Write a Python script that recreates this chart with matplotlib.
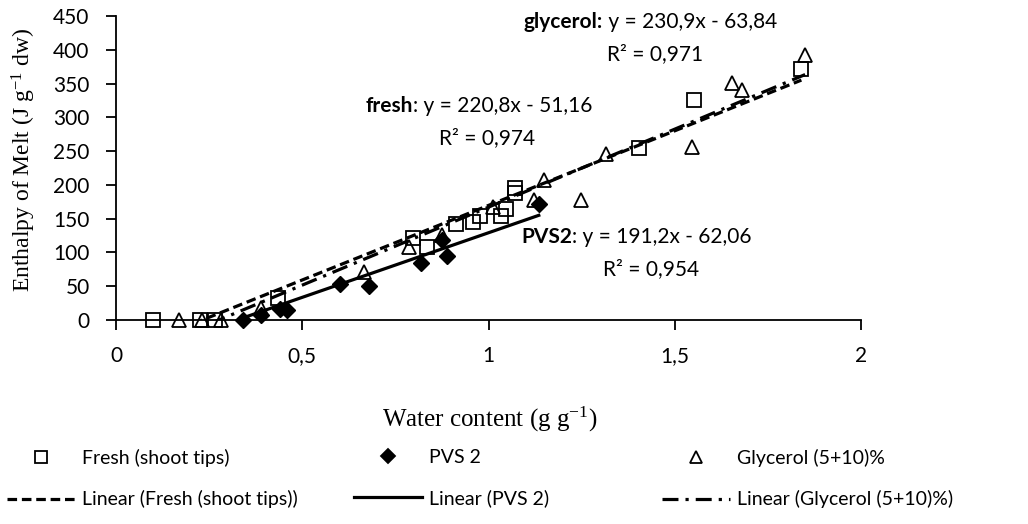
import matplotlib.pyplot as plt
import numpy as np
from matplotlib.lines import Line2D

plt.rcParams['font.family'] = ['Lato', 'DejaVu Sans']
plt.rcParams['mathtext.fontset'] = 'custom'
plt.rcParams['mathtext.rm'] = 'Liberation Serif'
plt.rcParams['mathtext.it'] = 'Liberation Serif:italic'

# data
fresh_x = [0.10, 0.225, 0.265, 0.435, 0.797, 0.835, 0.912, 0.958, 0.976, 1.034, 1.046, 1.07, 1.072, 1.403, 1.552, 1.84]
fresh_y = [0, 0, 0, 32, 122, 108, 142, 145, 154, 154, 165, 195, 188, 254, 326, 372]
pvs_x = [0.34, 0.39, 0.44, 0.46, 0.60, 0.68, 0.818, 0.876, 0.889, 1.135]
pvs_y = [0, 7, 17, 15, 53, 50, 84, 118, 95, 172]
gly_x = [0.17, 0.23, 0.283, 0.39, 0.666, 0.786, 0.876, 1.012, 1.123, 1.15, 1.248, 1.316, 1.546, 1.653, 1.68, 1.85]
gly_y = [0, 0, 0, 18, 71, 108, 126, 167, 178, 207, 178, 246, 256, 351, 341, 392]

# trendline coefficients (slope, intercept) as printed on the chart
fresh_fit = [220.8, -51.16]
pvs_fit = [191.2, -62.06]
gly_fit = [230.9, -63.84]

x_ticks = [0, 0.5, 1, 1.5, 2]
x_tick_labels = ['0', '0,5', '1', '1,5', '2']
y_ticks = list(range(0, 451, 50))

W, H = 1028, 524
fig = plt.figure(figsize=(W / 100, H / 100), dpi=100)
ax = fig.add_axes([116 / W, 1 - 320 / H, (861 - 116) / W, (320 - 16) / H])

ms = 9.5
ax.plot(fresh_x, fresh_y, 's', ms=ms, mfc='none', mec='black', mew=1.3, clip_on=False, zorder=3)
ax.plot(pvs_x, pvs_y, 'D', ms=8, mfc='black', mec='black', clip_on=False, zorder=3)
ax.plot(gly_x, gly_y, '^', ms=ms, mfc='none', mec='black', mew=1.3, clip_on=False, zorder=3)

lw = 2.3
fresh_ls = (0, (3, 1.5))
gly_ls = (0, (5, 2.2, 1, 2.2))


def trend(xs, fit):
    xx = np.array([min(xs), max(xs)])
    return xx, fit[0] * xx + fit[1]


ax.plot(*trend(fresh_x, fresh_fit), color='black', lw=lw, ls=fresh_ls, zorder=4)
ax.plot(*trend(pvs_x, pvs_fit), color='black', lw=lw, ls='-', zorder=4)
ax.plot(*trend(gly_x, gly_fit), color='black', lw=lw, ls=gly_ls, zorder=4)

ax.set_xlim(0, 2)
ax.set_ylim(0, 450)
ax.set_xticks(x_ticks)
ax.set_xticklabels(x_tick_labels)
ax.set_yticks(y_ticks)
for s in ['top', 'right']:
    ax.spines[s].set_visible(False)
for s in ['left', 'bottom']:
    ax.spines[s].set_linewidth(1.3)
ax.tick_params(axis='both', direction='out', length=7, width=1.3, labelsize=15, colors='black')
ax.tick_params(axis='y', pad=12)
ax.tick_params(axis='x', pad=12)

fig.text(490 / W, 1 - 419 / H, r'Water content (g g$^{-1}$)', family='Liberation Serif',
         fontsize=18, ha='center', va='center')
fig.text(24 / W, 1 - 160 / H, r'Enthalpy of Melt (J g$^{-1}$ dw)', family='Liberation Serif',
         fontsize=17, ha='center', va='center', rotation=90)


# equation labels: bold name then the rest, second line centred
def equation(x_split, y1, name, rest, r2, x_r2, y2):
    fig.text(x_split / W, 1 - y1 / H, name, fontsize=15, fontweight='bold', ha='right', va='center')
    fig.text(x_split / W, 1 - y1 / H, rest, fontsize=15, ha='left', va='center')
    fig.text(x_r2 / W, 1 - y2 / H, r2, fontsize=15, ha='center', va='center')


equation(603, 22, 'glycerol:', ' y = 230,9x - 63,84', 'R² = 0,971', 655, 54)
equation(413, 106, 'fresh', ': y = 220,8x - 51,16', 'R² = 0,974', 487, 138)
equation(572, 237, 'PVS2', ': y = 191,2x - 62,06', 'R² = 0,954', 651, 269)

# legend, one column at a time
cols = [
    (7, 's', 'none', fresh_ls, 'Fresh (shoot tips)'),
    (354, 'D', 'black', '-', 'PVS 2'),
    (662, '^', 'none', gly_ls, 'Glycerol (5+10)%'),
]
for x0, mk, fc, ls, name in cols:
    handles = [
        Line2D([], [], ls='none', marker=mk, ms=9 if mk != 'D' else 7.5, mfc=fc, mec='black', mew=1.3),
        Line2D([], [], color='black', lw=lw, ls=ls),
    ]
    fig.legend(handles, [name, f'Linear ({name})'], loc='upper left',
               bbox_to_anchor=(x0 / W, 1 - 449 / H), frameon=False, fontsize=14,
               borderpad=0, borderaxespad=0, handlelength=3.5, handletextpad=0.35,
               labelspacing=1.2)

fig.savefig('out.png', dpi=100)
